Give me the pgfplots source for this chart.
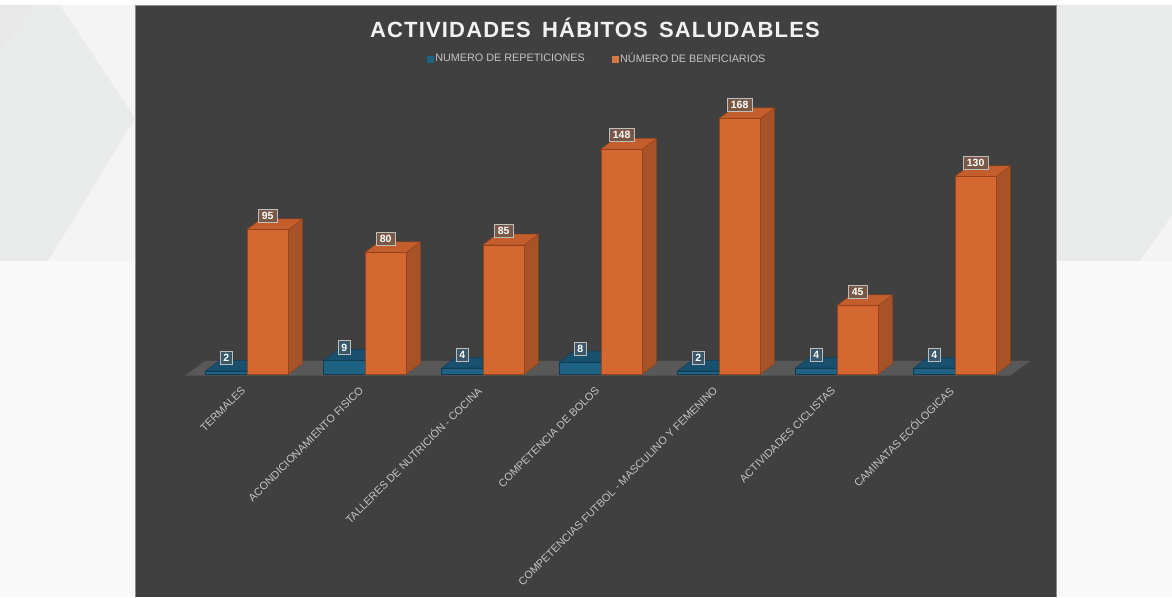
\documentclass[border=0pt]{standalone}
\usepackage{fontspec}
\setmainfont{Liberation Sans}
\newfontfamily\titlefont[LetterSpace=5.3]{Liberation Sans}
\usepackage{pgfplots}
\pgfplotsset{compat=1.18}
\definecolor{panel}{RGB}{64,64,64}
\definecolor{paneledge}{RGB}{140,140,140}
\definecolor{bgup}{RGB}{244,244,244}
\definecolor{bgupdark}{RGB}{233,234,234}
\definecolor{bglow}{RGB}{249,249,249}
\definecolor{floorgray}{RGB}{88,88,88}
\definecolor{ofront}{RGB}{212,104,48}
\definecolor{oside}{RGB}{168,82,40}
\definecolor{otop}{RGB}{196,94,44}
\definecolor{oedge}{RGB}{150,66,26}
\definecolor{bfront}{RGB}{30,98,132}
\definecolor{btop}{RGB}{24,80,110}
\definecolor{bedge}{RGB}{18,60,84}
\definecolor{labgray}{RGB}{196,196,196}
\definecolor{titlecol}{RGB}{242,242,242}
\definecolor{olabfill}{RGB}{122,88,70}
\definecolor{blabfill}{RGB}{58,88,106}
\definecolor{labborder}{RGB}{190,190,190}
\begin{document}
\begin{tikzpicture}[x=1pt,y=1pt]
% page background
\fill[white] (0,0) rectangle (1172,597);
\fill[bglow] (0,0) rectangle (1172,336);
\fill[bgup] (0,336) rectangle (1172,592);
\fill[bgupdark] (0,592) -- (60,592) -- (135,479) -- (48,336) -- (0,336) -- cycle;
\fill[black!9] (0,592) -- (35,592) -- (0,548) -- cycle;
\fill[bgupdark] (1057,592) -- (1172,592) -- (1172,382) -- (1140,336) -- (1057,336) -- cycle;
% chart panel
\fill[panel] (135,0) rectangle (1057,592);
\draw[paneledge, line width=0.8pt] (135.4,0) -- (135.4,591.6) -- (1056.6,591.6) -- (1056.6,0);
% title
\node[font=\titlefont\bfseries\fontsize{22}{25}\selectfont, text=titlecol] at (595,569) {ACTIVIDADES\hspace{4pt} HÁBITOS\hspace{4pt} SALUDABLES};
\begin{axis}[
  at={(176.2pt,223pt)}, anchor=south west,
  scale only axis, width=849.6pt, height=273.6pt,
  xmin=-0.6, xmax=6.6, ymin=0, ymax=180,
  clip=false,
  /pgf/number format/assume math mode=true,
  axis line style={draw=none},
  tick style={draw=none},
  major tick length=0pt,
  ytick=\empty,
  xtick={0,1,2,3,4,5,6},
  xticklabels={TERMALES, ACONDICIONAMIENTO FISICO, TALLERES DE NUTRICIÓN - COCINA, COMPETENCIA DE BOLOS, COMPETENCIAS FUTBOL - MASCULINO Y FEMENINO, ACTIVIDADES CICLISTAS, CAMINATAS ECÓLOGICAS},
  xticklabel style={xshift=-3.5pt, yshift=-14.5pt, rotate=45, anchor=east, inner sep=0pt, font=\fontsize{10.8}{12}\selectfont, text=labgray},
  legend columns=2,
  legend style={at={(axis description cs:0.4955,1.152)}, anchor=center, draw=none, fill=none,
    font=\fontsize{10.8}{12}\selectfont, text=labgray,
    nodes={inner xsep=1.5pt},
    /tikz/every odd column/.append style={column sep=0pt},
    /tikz/every even column/.append style={column sep=26pt}},
]
% legend entries
\addlegendimage{legend image code/.code={\fill[bfront] (0pt,-3pt) rectangle (6pt,3pt);}}
\addlegendentry{NUMERO DE REPETICIONES}
\addlegendimage{legend image code/.code={\fill[ofront!90!white] (0pt,-3pt) rectangle (6pt,3pt);}}
\addlegendentry{NÚMERO DE BENFICIARIOS}
% floor
\addplot[fill=floorgray, draw=none, forget plot] coordinates {(-0.525,-1) (6.466,-1) (6.64,8.6) (-0.355,8.6)} -- cycle;
% blue top faces
\addplot[fill=btop, draw=bedge, line width=0.5pt, forget plot] coordinates {(-0.35,2) (-0.23,9) (0.12,9) (0,2)} -- cycle;
\addplot[fill=btop, draw=bedge, line width=0.5pt, forget plot] coordinates {(0.65,9) (0.77,16) (1.12,16) (1,9)} -- cycle;
\addplot[fill=btop, draw=bedge, line width=0.5pt, forget plot] coordinates {(1.65,4) (1.77,11) (2.12,11) (2,4)} -- cycle;
\addplot[fill=btop, draw=bedge, line width=0.5pt, forget plot] coordinates {(2.65,8) (2.77,15) (3.12,15) (3,8)} -- cycle;
\addplot[fill=btop, draw=bedge, line width=0.5pt, forget plot] coordinates {(3.65,2) (3.77,9) (4.12,9) (4,2)} -- cycle;
\addplot[fill=btop, draw=bedge, line width=0.5pt, forget plot] coordinates {(4.65,4) (4.77,11) (5.12,11) (5,4)} -- cycle;
\addplot[fill=btop, draw=bedge, line width=0.5pt, forget plot] coordinates {(5.65,4) (5.77,11) (6.12,11) (6,4)} -- cycle;
% blue fronts
\addplot[ybar, bar width=0.35, bar shift=-0.175, fill=bfront, draw=bedge, line width=0.5pt, forget plot,
  nodes near coords,
  every node near coord/.append style={anchor=center, xshift=-20.65pt, yshift=13pt, font=\bfseries\fontsize{10.5}{12}\selectfont,
    text=white, fill=blabfill, draw=labborder, line width=0.6pt, inner xsep=3.5pt, inner ysep=2.8pt, text height=7.5pt, text depth=0pt}]
  coordinates {(0,2) (1,9) (2,4) (3,8) (4,2) (5,4) (6,4)};
% orange side and top faces
\addplot[fill=oside, draw=oedge, line width=0.5pt, forget plot] coordinates {(0.35,0) (0.47,7) (0.47,102) (0.35,95)} -- cycle;
\addplot[fill=otop, draw=oedge, line width=0.5pt, forget plot] coordinates {(0,95) (0.12,102) (0.47,102) (0.35,95)} -- cycle;
\addplot[fill=oside, draw=oedge, line width=0.5pt, forget plot] coordinates {(1.35,0) (1.47,7) (1.47,87) (1.35,80)} -- cycle;
\addplot[fill=otop, draw=oedge, line width=0.5pt, forget plot] coordinates {(1,80) (1.12,87) (1.47,87) (1.35,80)} -- cycle;
\addplot[fill=oside, draw=oedge, line width=0.5pt, forget plot] coordinates {(2.35,0) (2.47,7) (2.47,92) (2.35,85)} -- cycle;
\addplot[fill=otop, draw=oedge, line width=0.5pt, forget plot] coordinates {(2,85) (2.12,92) (2.47,92) (2.35,85)} -- cycle;
\addplot[fill=oside, draw=oedge, line width=0.5pt, forget plot] coordinates {(3.35,0) (3.47,7) (3.47,155) (3.35,148)} -- cycle;
\addplot[fill=otop, draw=oedge, line width=0.5pt, forget plot] coordinates {(3,148) (3.12,155) (3.47,155) (3.35,148)} -- cycle;
\addplot[fill=oside, draw=oedge, line width=0.5pt, forget plot] coordinates {(4.35,0) (4.47,7) (4.47,175) (4.35,168)} -- cycle;
\addplot[fill=otop, draw=oedge, line width=0.5pt, forget plot] coordinates {(4,168) (4.12,175) (4.47,175) (4.35,168)} -- cycle;
\addplot[fill=oside, draw=oedge, line width=0.5pt, forget plot] coordinates {(5.35,0) (5.47,7) (5.47,52) (5.35,45)} -- cycle;
\addplot[fill=otop, draw=oedge, line width=0.5pt, forget plot] coordinates {(5,45) (5.12,52) (5.47,52) (5.35,45)} -- cycle;
\addplot[fill=oside, draw=oedge, line width=0.5pt, forget plot] coordinates {(6.35,0) (6.47,7) (6.47,137) (6.35,130)} -- cycle;
\addplot[fill=otop, draw=oedge, line width=0.5pt, forget plot] coordinates {(6,130) (6.12,137) (6.47,137) (6.35,130)} -- cycle;
% orange fronts
\addplot[ybar, bar width=0.35, bar shift=0.175, fill=ofront, draw=oedge, line width=0.5pt, forget plot,
  nodes near coords,
  every node near coord/.append style={anchor=center, xshift=20.65pt, yshift=14pt, font=\bfseries\fontsize{10.5}{12}\selectfont,
    text=white, fill=olabfill, draw=labborder, line width=0.6pt, inner xsep=3.5pt, inner ysep=2.8pt, text height=7.5pt, text depth=0pt}]
  coordinates {(0,95) (1,80) (2,85) (3,148) (4,168) (5,45) (6,130)};
\end{axis}
\pgfresetboundingbox
\useasboundingbox (0,0) rectangle (1172,597);
\end{tikzpicture}
\end{document}
